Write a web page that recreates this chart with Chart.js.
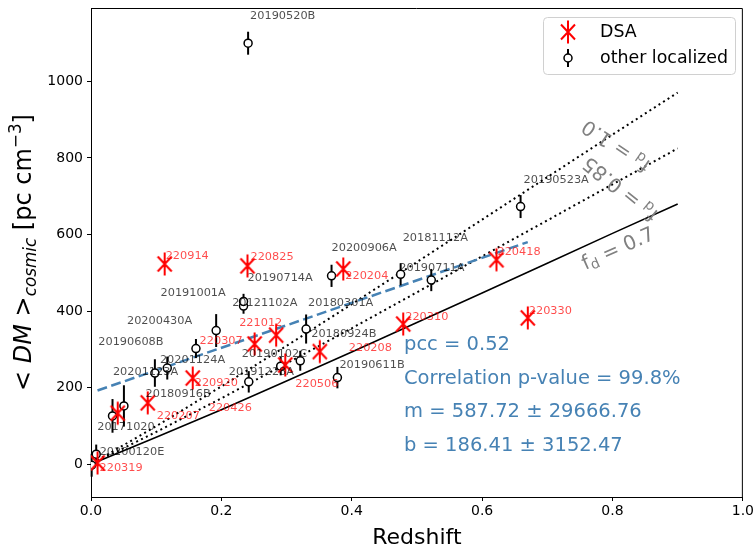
<!DOCTYPE html>
<html>
<head>
<meta charset="utf-8">
<script src="https://cdn.jsdelivr.net/npm/chart.js@4.4.1/dist/chart.umd.min.js"></script>
<style>
	html, body { margin: 0; padding: 0; background: #fff; }
	#wrap { width: 756px; height: 548px; }
</style>
</head>
<body>
<div id="wrap"><canvas id="chart" width="756" height="548"></canvas></div>
<script>
//DSA bursts
var dsaNames = ['220319', '220207', '220426', '220920', '220914', '220825', '220307', '221012', '220506', '220208', '220204', '220310', '220418', '220330'];
var dsaZ = [0.010, 0.041, 0.087, 0.156, 0.113, 0.240, 0.251, 0.284, 0.298, 0.351, 0.387, 0.479, 0.622, 0.670];
var dsaDM = [3, 133, 160, 225, 523, 518, 314, 337, 259, 294, 510, 366, 534, 382];

//other localized bursts
var locNames = ['20200120E', '20171020', '20180916B', '20201123A', '20201124A', '20190608B', '20200430A', '20121102A', '20191001A', '20190714A',
	'20190520B', '20191228A', '20190102C', '20180924B', '20180301A', '20200906A', '20190611B', '20181112A', '20190711A', '20190523A'];
var locZ = [0.001, 0.008, 0.033, 0.0505, 0.098, 0.117, 0.161, 0.192, 0.234, 0.234,
	0.241, 0.242, 0.291, 0.321, 0.330, 0.369, 0.378, 0.475, 0.522, 0.659];
var locDM = [-3, 26, 126, 152, 238, 251, 302, 349, 413, 425,
	1100, 215, 256, 270, 353, 492, 226, 496, 481, 673];
var locErr = [30, 25, 44, 54, 36, 30, 25, 43, 20, 20,
	30, 28, 24, 26, 38, 29, 28, 29, 29, 30];

//Macquart relation for three f_d values
var mqZ = [0.01, 0.1, 0.2, 0.3, 0.4, 0.5, 0.6, 0.7, 0.8, 0.9];
var mqFd10 = [10, 99, 203, 309, 418, 528, 639, 750, 861, 971];
var mqFd085 = [8, 84, 172, 263, 355, 449, 543, 637, 731, 825];
var mqFd07 = [7, 70, 142, 217, 293, 370, 447, 525, 603, 680];

//linear fit to the DSA sample
var pcc = 0.52, pValue = 99.8;
var fitM = 587.72, fitMErr = 29666.76;
var fitB = 186.41, fitBErr = 3152.47;

var xTicks = [0.0, 0.2, 0.4, 0.6, 0.8, 1.0];
var yTicks = [0, 200, 400, 600, 800, 1000];

//label placement, pixels from each marker
var dsaLabelOff = [[2, 5], [39, 3], [61, 5], [2, 5], [1, -8], [3, -9], [-55, -3], [-37, -12], [10, 19], [29, -4], [2, 7], [2, -7], [1, -8], [1, -7]];
var locLabelOff = [[8, -13], [1, -27], [33, -22], [-11, -34], [5, -13], [-69, -26], [-69, -27], [16, -27], [-83, -13], [4, -23],
	[2, -27], [-20, -10], [-39, -12], [11, -27], [2, -26], [0, -28], [2, -13], [2, -36], [-32, -12], [3, -27]];

var FONT = '"DejaVu Sans"';
var BLUE = '#4682b4';

function pairs(xs, ys) {
	return xs.map(function (x, i) { return { x: x, y: ys[i] }; });
}

//red six-armed marker used for DSA
function makeAsterisk() {
	var c = document.createElement('canvas');
	c.width = 26;
	c.height = 26;
	var g = c.getContext('2d');
	g.strokeStyle = '#ff0000';
	g.lineWidth = 2;
	g.beginPath();
	g.moveTo(13, 1.5); g.lineTo(13, 24.5);
	g.moveTo(6, 5.5); g.lineTo(20, 20.5);
	g.moveTo(20, 5.5); g.lineTo(6, 20.5);
	g.stroke();
	return c;
}
var asterisk = makeAsterisk();

var fitZ = [Math.min.apply(null, dsaZ), Math.max.apply(null, dsaZ)];
var fitDM = fitZ.map(function (z) { return fitM * z + fitB; });

// text made of runs: {t, italic, scale, shift}
function runFont(r, size) {
	return (r.italic ? 'italic ' : '') + (size * (r.scale || 1)) + 'px ' + FONT;
}
function measureRuns(ctx, runs, size) {
	var w = 0;
	runs.forEach(function (r) {
		ctx.font = runFont(r, size);
		w += ctx.measureText(r.t).width;
	});
	return w;
}
function fillRuns(ctx, runs, size, x, y) {
	runs.forEach(function (r) {
		ctx.font = runFont(r, size);
		ctx.fillText(r.t, x, y + (r.shift || 0) * size);
		x += ctx.measureText(r.t).width;
	});
}

function fdRuns(val) {
	return [{ t: 'f' }, { t: 'd', scale: 0.7, shift: 0.22 }, { t: ' = ' + val }];
}

//vertical error bars for the localized sample
var errorBars = {
	id: 'errorBars',
	beforeDatasetDraw: function (chart, args) {
		if (args.index !== 1) return;
		var ctx = chart.ctx, xs = chart.scales.x, ys = chart.scales.y;
		ctx.save();
		ctx.strokeStyle = '#000';
		ctx.lineWidth = 2;
		for (var i = 0; i < locZ.length; i++) {
			var px = xs.getPixelForValue(locZ[i]);
			ctx.beginPath();
			ctx.moveTo(px, ys.getPixelForValue(locDM[i] - locErr[i]));
			ctx.lineTo(px, ys.getPixelForValue(locDM[i] + locErr[i]));
			ctx.stroke();
		}
		ctx.restore();
	}
};

//frame, labels, legend and annotations
var textLayer = {
	id: 'textLayer',
	afterDraw: function (chart) {
		var ctx = chart.ctx, a = chart.chartArea;
		var xs = chart.scales.x, ys = chart.scales.y;
		ctx.save();

		//top and right spines
		ctx.strokeStyle = '#000';
		ctx.lineWidth = 1;
		ctx.beginPath();
		ctx.moveTo(a.left, a.top + 0.5); ctx.lineTo(a.right - 0.5, a.top + 0.5); ctx.lineTo(a.right - 0.5, a.bottom);
		ctx.stroke();

		//burst names
		ctx.textBaseline = 'middle';
		ctx.textAlign = 'left';
		ctx.font = '11.3px ' + FONT;
		ctx.fillStyle = 'rgba(0,0,0,0.7)';
		for (var i = 0; i < locNames.length; i++) {
			ctx.fillText(locNames[i], xs.getPixelForValue(locZ[i]) + locLabelOff[i][0], ys.getPixelForValue(locDM[i]) + locLabelOff[i][1]);
		}
		ctx.fillStyle = 'rgba(255,0,0,0.7)';
		for (var j = 0; j < dsaNames.length; j++) {
			ctx.fillText(dsaNames[j], xs.getPixelForValue(dsaZ[j]) + dsaLabelOff[j][0], ys.getPixelForValue(dsaDM[j]) + dsaLabelOff[j][1]);
		}

		//fit statistics
		ctx.fillStyle = BLUE;
		ctx.font = '19.5px ' + FONT;
		ctx.fillText('pcc = ' + pcc.toFixed(2), 404, 345);
		ctx.fillText('Correlation p-value = ' + pValue.toFixed(1) + '%', 404, 379);
		ctx.fillText('m = ' + fitM.toFixed(2) + ' \u00b1 ' + fitMErr.toFixed(2), 404, 412);
		ctx.fillText('b = ' + fitB.toFixed(2) + ' \u00b1 ' + fitBErr.toFixed(2), 404, 446);

		//curve labels
		ctx.fillStyle = '#808080';
		var curveLabels = [
			{ v: '0.7', x: 618.5, y: 249.5, ang: -24 },
			{ v: '0.85', x: 621, y: 188, ang: 219 },
			{ v: '1.0', x: 616.5, y: 145, ang: 214 }
		];
		curveLabels.forEach(function (c) {
			var runs = fdRuns(c.v);
			ctx.save();
			ctx.translate(c.x, c.y);
			ctx.rotate(c.ang * Math.PI / 180);
			fillRuns(ctx, runs, 20, -measureRuns(ctx, runs, 20) / 2, 0);
			ctx.restore();
		});

		//axis titles
		ctx.fillStyle = '#000';
		ctx.textBaseline = 'alphabetic';
		ctx.textAlign = 'center';
		ctx.font = '22px ' + FONT;
		ctx.fillText('Redshift', (a.left + a.right) / 2, 544);
		ctx.textAlign = 'left';
		var yRuns = [
			{ t: '< ' }, { t: 'DM', italic: true }, { t: ' >' },
			{ t: 'cosmic', italic: true, scale: 0.7, shift: 0.22 },
			{ t: ' [pc cm' }, { t: '\u22123', scale: 0.7, shift: -0.4 }, { t: ']' }
		];
		ctx.save();
		ctx.translate(31, (a.top + a.bottom) / 2);
		ctx.rotate(-Math.PI / 2);
		fillRuns(ctx, yRuns, 24, -measureRuns(ctx, yRuns, 24) / 2, 0);
		ctx.restore();

		//legend
		var lx = 543.5, ly = 17.5, lw = 192, lh = 57, r = 4;
		ctx.beginPath();
		ctx.moveTo(lx + r, ly);
		ctx.arcTo(lx + lw, ly, lx + lw, ly + lh, r);
		ctx.arcTo(lx + lw, ly + lh, lx, ly + lh, r);
		ctx.arcTo(lx, ly + lh, lx, ly, r);
		ctx.arcTo(lx, ly, lx + lw, ly, r);
		ctx.closePath();
		ctx.fillStyle = 'rgba(255,255,255,0.8)';
		ctx.fill();
		ctx.strokeStyle = '#d0d0d0';
		ctx.lineWidth = 1;
		ctx.stroke();

		ctx.drawImage(asterisk, 568 - 13, 32 - 13);
		ctx.strokeStyle = '#000';
		ctx.lineWidth = 2;
		ctx.beginPath();
		ctx.moveTo(568, 49); ctx.lineTo(568, 67);
		ctx.stroke();
		ctx.beginPath();
		ctx.arc(568, 58, 4, 0, Math.PI * 2);
		ctx.fillStyle = '#fff';
		ctx.fill();
		ctx.lineWidth = 1.5;
		ctx.stroke();

		ctx.fillStyle = '#000';
		ctx.textBaseline = 'middle';
		ctx.font = '17.4px ' + FONT;
		ctx.fillText('DSA', 600, 32);
		ctx.fillText('other localized', 600, 58);

		ctx.restore();
	}
};

new Chart(document.getElementById('chart'), {
	type: 'scatter',
	data: {
		datasets: [
			{
				label: 'DSA',
				data: pairs(dsaZ, dsaDM),
				pointStyle: asterisk,
				pointRadius: 12,
				order: 1
			},
			{
				label: 'other localized',
				data: pairs(locZ, locDM),
				pointStyle: 'circle',
				pointRadius: 4,
				borderWidth: 1.5,
				borderColor: '#000',
				backgroundColor: '#fff',
				order: 2
			},
			{
				type: 'line',
				label: 'fit',
				data: pairs(fitZ, fitDM),
				showLine: true,
				borderColor: BLUE,
				borderWidth: 2.5,
				borderDash: [10, 4.5],
				pointRadius: 0,
				fill: false,
				order: 3
			},
			{
				type: 'line',
				label: 'f_d = 1.0',
				data: pairs(mqZ, mqFd10),
				showLine: true,
				borderColor: '#000',
				borderWidth: 2,
				borderDash: [2, 3.4],
				pointRadius: 0,
				fill: false,
				order: 4
			},
			{
				type: 'line',
				label: 'f_d = 0.85',
				data: pairs(mqZ, mqFd085),
				showLine: true,
				borderColor: '#000',
				borderWidth: 2,
				borderDash: [2, 3.4],
				pointRadius: 0,
				fill: false,
				order: 5
			},
			{
				type: 'line',
				label: 'f_d = 0.7',
				data: pairs(mqZ, mqFd07),
				showLine: true,
				borderColor: '#000',
				borderWidth: 1.6,
				pointRadius: 0,
				fill: false,
				order: 6
			}
		]
	},
	options: {
		responsive: false,
		animation: false,
		devicePixelRatio: 1,
		// big markers would otherwise push the plot area inwards
		layout: { autoPadding: false, padding: { left: 0, right: 11, top: 8, bottom: 0 } },
		plugins: {
			legend: { display: false },
			tooltip: { enabled: false }
		},
		scales: {
			x: {
				type: 'linear',
				min: 0,
				max: 1,
				afterBuildTicks: function (scale) {
					scale.ticks = xTicks.map(function (v) { return { value: v }; });
				},
				afterFit: function (scale) {
					scale.height = 51;
				},
				grid: { display: true, drawOnChartArea: false, drawTicks: true, tickLength: 4, color: '#000' },
				border: { display: true, color: '#000', width: 1 },
				ticks: {
					autoSkip: false,
					maxRotation: 0,
					padding: 2,
					color: '#000',
					font: { family: 'DejaVu Sans', size: 14 },
					callback: function (v) { return Number(v).toFixed(1); }
				}
			},
			y: {
				type: 'linear',
				min: -86,
				max: 1192,
				afterBuildTicks: function (scale) {
					scale.ticks = yTicks.map(function (v) { return { value: v }; });
				},
				afterFit: function (scale) {
					scale.width = 91;
				},
				grid: { display: true, drawOnChartArea: false, drawTicks: true, tickLength: 4, color: '#000' },
				border: { display: true, color: '#000', width: 1 },
				ticks: {
					autoSkip: false,
					padding: 4,
					color: '#000',
					// single-line labels, so a short line box only trims the reserved edge space
					font: { family: 'DejaVu Sans', size: 14, lineHeight: 0.57 },
					callback: function (v) { return String(v); }
				}
			}
		}
	},
	plugins: [errorBars, textLayer]
});
</script>
</body>
</html>
